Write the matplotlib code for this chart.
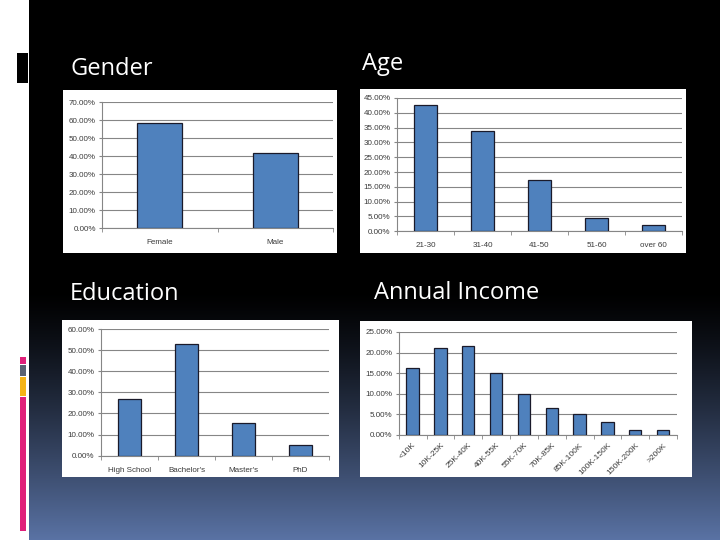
import numpy as np
import matplotlib
matplotlib.use('Agg')
import matplotlib.pyplot as plt
from matplotlib.patches import Rectangle
from matplotlib.ticker import FuncFormatter, MultipleLocator

###############################################################################
# DATA
###############################################################################

GENDER_LABELS = ['Female', 'Male']
GENDER_VALUES = [0.583, 0.417]

AGE_LABELS = ['21-30', '31-40', '41-50', '51-60', 'over 60']
AGE_VALUES = [0.428, 0.338, 0.172, 0.045, 0.022]

EDU_LABELS = ['High School', "Bachelor's", "Master's", 'PhD']
EDU_VALUES = [0.269, 0.529, 0.155, 0.051]

INCOME_LABELS = ['<10K', '10K-25K', '25K-40K', '40K-55K', '55K-70K', '70K-85K',
                 '85K-100K', '100K-150K', '150K-200K', '>200K']
INCOME_VALUES = [0.163, 0.210, 0.215, 0.150, 0.100, 0.066, 0.050, 0.030, 0.011, 0.011]

###############################################################################
# STYLE
###############################################################################

W, H = 720, 540
BAR_COLOR = '#4F81BD'
EDGE_COLOR = '#1a1a2a'
GRID_COLOR = '#868686'
TICK_COLOR = '#3a3a3a'
TITLE_FONT = 'Open Sans'
TICK_FONT = 'Liberation Sans'


def px_rect(x0, y0, x1, y1):
    """Pixel box (top-left origin) -> figure fraction rect."""
    return [x0 / W, 1 - y1 / H, (x1 - x0) / W, (y1 - y0) / H]


def bar_panel(fig, panel, plot, labels, values, ymax, step, width, rotate=False):
    # white slide picture behind the chart
    fig.patches.append(Rectangle((panel[0] / W, 1 - panel[3] / H),
                                 (panel[2] - panel[0]) / W, (panel[3] - panel[1]) / H,
                                 transform=fig.transFigure, facecolor='white',
                                 edgecolor='none', zorder=1))
    ax = fig.add_axes(px_rect(*plot))
    ax.set_zorder(2)
    ax.patch.set_alpha(0)
    x = np.arange(len(labels))
    ax.bar(x, values, width=width, color=BAR_COLOR, edgecolor=EDGE_COLOR,
           linewidth=0.9, zorder=3)
    ax.set_xlim(-0.5, len(labels) - 0.5)
    ax.set_ylim(0, ymax)
    ax.yaxis.set_major_locator(MultipleLocator(step))
    ax.yaxis.set_major_formatter(FuncFormatter(lambda v, p: f'{v * 100:.2f}%'))
    ax.grid(axis='y', color=GRID_COLOR, linewidth=0.8, zorder=1)
    for s in ['top', 'right']:
        ax.spines[s].set_visible(False)
    for s in ['left', 'bottom']:
        ax.spines[s].set_color(GRID_COLOR)
        ax.spines[s].set_linewidth(0.8)
    ax.tick_params(axis='y', length=2.5, color=GRID_COLOR, labelsize=5.8,
                   labelcolor=TICK_COLOR, pad=2)
    ax.set_xticks(x)
    ax.set_xticks(np.arange(len(labels) + 1) - 0.5, minor=True)
    ax.tick_params(axis='x', which='major', length=0, labelsize=5.8,
                   labelcolor=TICK_COLOR, pad=8)
    ax.tick_params(axis='x', which='minor', length=3, color=GRID_COLOR)
    if rotate:
        ax.set_xticklabels(labels, rotation=45, ha='right', rotation_mode='anchor')
        ax.tick_params(axis='x', which='major', pad=5, labelsize=6)
    else:
        ax.set_xticklabels(labels)
    for t in ax.get_xticklabels() + ax.get_yticklabels():
        t.set_fontfamily(TICK_FONT)
    return ax


fig = plt.figure(figsize=(7.2, 5.4), dpi=100, facecolor='white')

# slide background: black fading to slate blue toward the bottom
bg = fig.add_axes([0, 0, 1, 1])
bg.set_xlim(0, W)
bg.set_ylim(H, 0)
bg.axis('off')
rows = np.arange(H)
t = np.clip((rows - 290) / 250.0, 0, 1) ** 1.25
bottom = np.array([90, 115, 165]) / 255.0
grad = (t[:, None] * bottom[None, :])[:, None, :]
bg.imshow(grad, extent=[29, W, H, 0], aspect='auto', zorder=0)

# left accent marks
bg.add_patch(Rectangle((17, 53), 11, 30, facecolor='black', zorder=2))
bg.add_patch(Rectangle((20, 357), 6, 7, facecolor='#E0207A', zorder=2))
bg.add_patch(Rectangle((20, 365), 6, 11, facecolor='#5A6272', zorder=2))
bg.add_patch(Rectangle((20, 377), 6, 19, facecolor='#F5B416', zorder=2))
bg.add_patch(Rectangle((20, 397), 6, 134, facecolor='#E0207A', zorder=2))

# slide titles
title_kw = dict(color='white', fontsize=17, family=TITLE_FONT, va='baseline', ha='left')
fig.text(70 / W, 1 - 75 / H, 'Gender', **title_kw)
fig.text(362 / W, 1 - 70 / H, 'Age', **title_kw)
fig.text(70 / W, 1 - 300 / H, 'Education', **title_kw)
fig.text(374 / W, 1 - 299 / H, 'Annual Income', **title_kw)

bar_panel(fig, (63, 90, 337, 253), (102, 102.3, 333, 228),
          GENDER_LABELS, GENDER_VALUES, 0.70, 0.10, 0.39)
bar_panel(fig, (360, 89, 686, 253), (397, 98, 682, 231.3),
          AGE_LABELS, AGE_VALUES, 0.45, 0.05, 0.42)
bar_panel(fig, (62, 320, 339, 477), (101, 329, 329, 455.7),
          EDU_LABELS, EDU_VALUES, 0.60, 0.10, 0.39)
bar_panel(fig, (360, 321, 692, 477), (398.7, 332, 677, 434.7),
          INCOME_LABELS, INCOME_VALUES, 0.25, 0.05, 0.44, rotate=True)

fig.savefig('out.png', dpi=100, facecolor=fig.get_facecolor())
